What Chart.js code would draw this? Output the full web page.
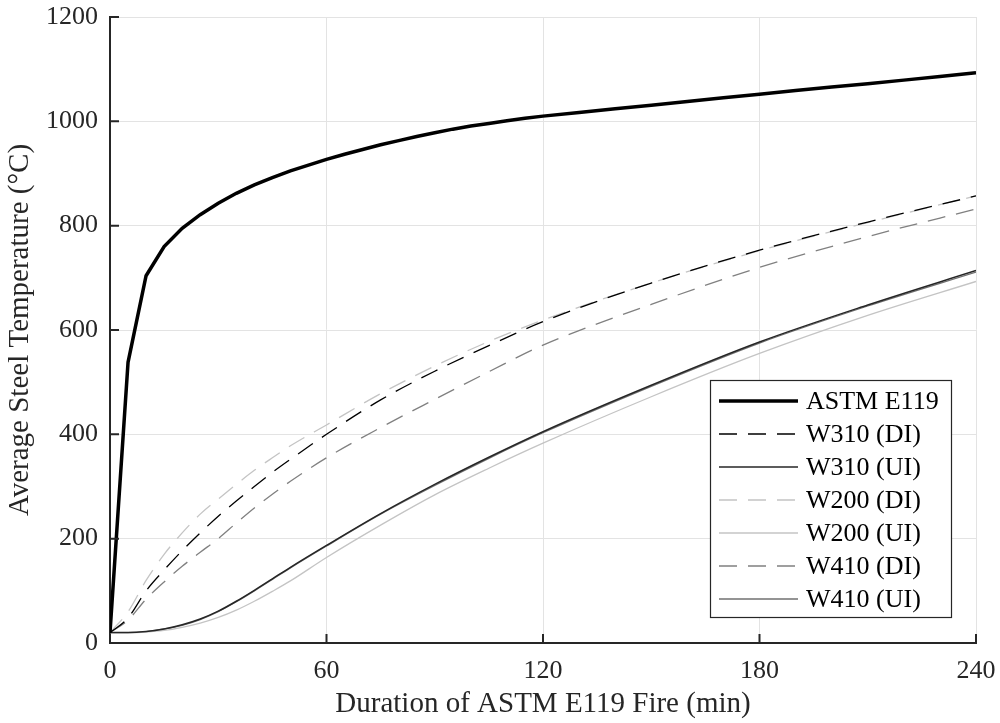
<!DOCTYPE html>
<html>
<head>
<meta charset="UTF-8">
<title>Average Steel Temperature</title>
<script src="https://cdn.jsdelivr.net/npm/chart.js@4.4.0/dist/chart.umd.min.js"></script>
<style>
  body { margin: 0; background: #fff; }
  #wrap { width: 1000px; height: 723px; }
</style>
</head>
<body>
<div id="wrap"><canvas id="chart" width="1000" height="723"></canvas></div>
<script>
// ASTM E119 standard fire curve (min, degC)
const fireTimes = [0, 5, 10, 15, 20, 25, 30, 35, 40, 45, 50, 55, 60, 65, 70, 75, 80, 85, 90, 95, 100, 105, 110, 115, 120,
                   130, 140, 150, 160, 170, 180, 190, 200, 210, 220, 230, 240]
const astmE119 = [20, 538, 704, 760, 795, 821, 843, 862, 878, 892, 905, 916, 927, 937, 946, 955, 963, 971, 978, 985, 991, 996, 1001, 1006, 1010,
                  1017, 1024, 1031, 1038, 1045, 1052, 1059, 1066, 1072, 1079, 1086, 1093]

// steel sections
const steelTimes = [0, 5, 10, 15, 20, 25, 30, 35, 40, 45, 50, 60, 75, 90, 105, 120, 150, 180, 210, 240]
const w310DI = [20, 48, 100, 140, 177, 211, 243, 272, 300, 327, 352, 400, 466, 521, 570, 616, 690, 753, 807, 857]
const w310UI = [20, 20, 22, 27, 35, 46, 61, 80, 101, 123, 145, 187, 248, 304, 356, 405, 494, 577, 648, 714]
const w200DI = [20, 60, 120, 170, 211, 247, 276, 304, 331, 355, 378, 418, 478, 531, 578, 619, 690, 752, 806, 857]
const w200UI = [20, 20, 21, 24, 30, 38, 49, 63, 80, 99, 119, 164, 226, 284, 335, 383, 472, 555, 628, 693]
const w410DI = [20, 44, 84, 117, 147, 174, 200, 230, 259, 285, 310, 355, 413, 467, 520, 571, 649, 720, 779, 832]
const w410UI = [20, 20, 22, 27, 34, 45, 60, 79, 100, 122, 144, 186, 247, 302, 354, 403, 492, 575, 646, 711]

const xTicks = [0, 60, 120, 180, 240]
const yTicks = [0, 200, 400, 600, 800, 1000, 1200]

const pts = (xs, ys) => xs.map((x, i) => ({x: x, y: ys[i]}))
const serif = '"Liberation Serif", "Times New Roman", serif'
const axisColor = '#262626'
const dash = [18, 11]

const series = [
  {label: 'ASTM E119', data: pts(fireTimes, astmE119), borderColor: '#000000', borderWidth: 3.5, tension: 0},
  {label: 'W310 (DI)', data: pts(steelTimes, w310DI), borderColor: '#000000', borderWidth: 1.3, borderDash: dash},
  {label: 'W310 (UI)', data: pts(steelTimes, w310UI), borderColor: '#262626', borderWidth: 1.5},
  {label: 'W200 (DI)', data: pts(steelTimes, w200DI), borderColor: '#c4c4c4', borderWidth: 1.3, borderDash: dash},
  {label: 'W200 (UI)', data: pts(steelTimes, w200UI), borderColor: '#c4c4c4', borderWidth: 1.3},
  {label: 'W410 (DI)', data: pts(steelTimes, w410DI), borderColor: '#808080', borderWidth: 1.3, borderDash: dash},
  {label: 'W410 (UI)', data: pts(steelTimes, w410UI), borderColor: '#707070', borderWidth: 1.3}
]
series.forEach(s => {
  s.pointRadius = 0
  s.fill = false
  if (s.tension === undefined) s.cubicInterpolationMode = 'monotone'
})

// ticks pointing into the plot, like the original figure
const innerTicks = {
  id: 'innerTicks',
  afterDatasetsDraw(chart) {
    const ctx = chart.ctx
    const a = chart.chartArea
    const xs = chart.scales.x, ys = chart.scales.y
    ctx.save()
    ctx.strokeStyle = axisColor
    ctx.lineWidth = 2
    ctx.beginPath()
    xTicks.forEach(v => {
      const px = xs.getPixelForValue(v)
      ctx.moveTo(px, a.bottom)
      ctx.lineTo(px, a.bottom - 9)
    })
    yTicks.forEach(v => {
      const py = ys.getPixelForValue(v)
      ctx.moveTo(a.left, py)
      ctx.lineTo(a.left + 9, py)
    })
    ctx.stroke()
    ctx.restore()
  }
}

// legend box inside the plot, lower right
const boxLegend = {
  id: 'boxLegend',
  afterDraw(chart) {
    const ctx = chart.ctx
    const a = chart.chartArea
    const w = 241, h = 237
    const x0 = a.right - 25 - w, y0 = a.bottom - 26 - h
    ctx.save()
    ctx.fillStyle = '#ffffff'
    ctx.fillRect(x0, y0, w, h)
    ctx.strokeStyle = axisColor
    ctx.lineWidth = 1.2
    ctx.strokeRect(x0 + 0.5, y0 + 0.5, w, h)
    ctx.font = '26px ' + serif
    ctx.textBaseline = 'middle'
    chart.data.datasets.forEach((ds, i) => {
      const y = y0 + 21 + i * 33
      ctx.beginPath()
      ctx.strokeStyle = ds.borderColor
      ctx.lineWidth = ds.borderWidth
      ctx.setLineDash(ds.borderDash || [])
      ctx.moveTo(x0 + 9, y)
      ctx.lineTo(x0 + 88, y)
      ctx.stroke()
      ctx.setLineDash([])
      ctx.fillStyle = '#000000'
      ctx.fillText(ds.label, x0 + 96, y + 1)
    })
    ctx.restore()
  }
}

new Chart(document.getElementById('chart'), {
  type: 'line',
  data: {datasets: series},
  plugins: [innerTicks, boxLegend],
  options: {
    responsive: false,
    animation: false,
    layout: {padding: {top: 17, right: 24, left: 0, bottom: 0}},
    plugins: {legend: {display: false}, tooltip: {enabled: false}},
    scales: {
      x: {
        type: 'linear', min: 0, max: 240,
        afterFit: s => { s.height = 80; s.paddingLeft = 0; s.paddingRight = 0 },
        afterBuildTicks: s => { s.ticks = xTicks.map(v => ({value: v})) },
        ticks: {font: {family: serif, size: 26}, color: axisColor, padding: 13, callback: v => String(v)},
        grid: {color: '#e3e3e3', lineWidth: 1, drawTicks: false},
        border: {display: true, color: axisColor, width: 2},
        title: {display: true, text: 'Duration of ASTM E119 Fire (min)', font: {family: serif, size: 29}, color: axisColor, padding: {top: 0, bottom: 1}}
      },
      y: {
        type: 'linear', min: 0, max: 1200,
        afterFit: s => { s.width = 110; s.paddingTop = 0; s.paddingBottom = 0 },
        afterBuildTicks: s => { s.ticks = yTicks.map(v => ({value: v})) },
        ticks: {font: {family: serif, size: 26}, color: axisColor, padding: 12, callback: v => String(v)},
        grid: {color: '#e3e3e3', lineWidth: 1, drawTicks: false},
        border: {display: true, color: axisColor, width: 2},
        title: {display: true, text: 'Average Steel Temperature (°C)', font: {family: serif, size: 29}, color: axisColor, padding: {top: 3, bottom: 0}}
      }
    }
  }
})
</script>
</body>
</html>
